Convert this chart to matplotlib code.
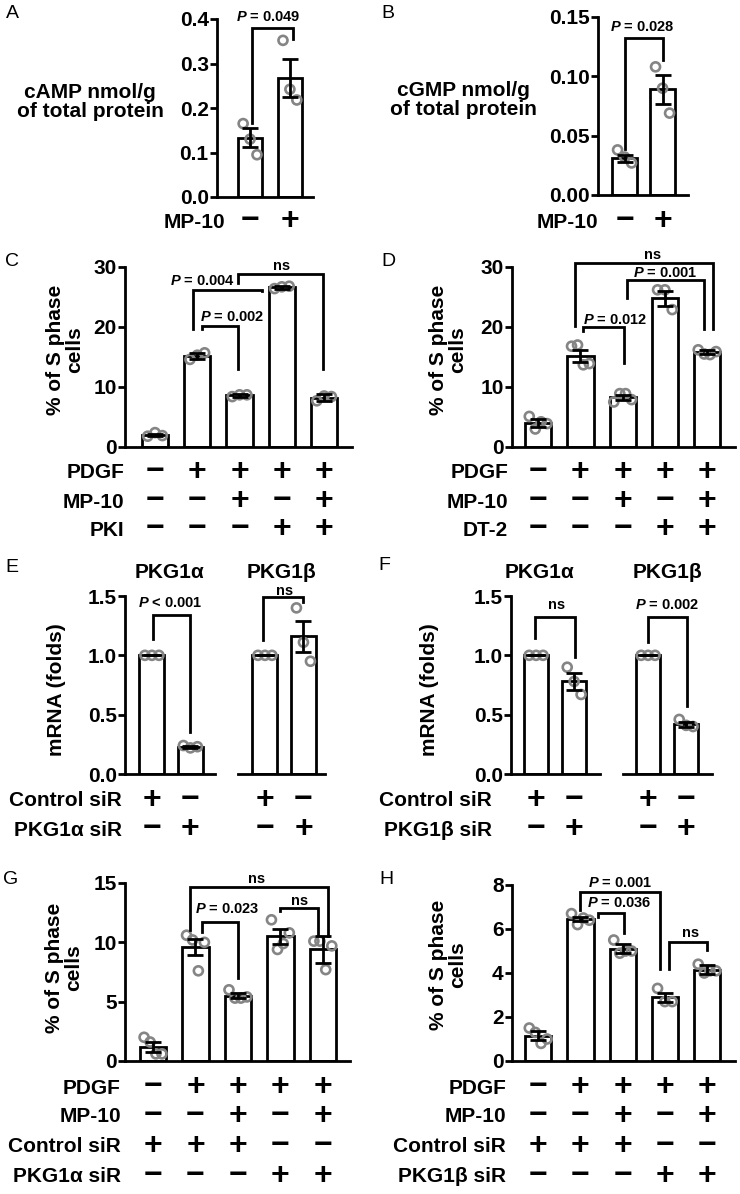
import matplotlib
matplotlib.use("Agg")
import matplotlib.pyplot as plt  # noqa: E402
import matplotlib.transforms as mtransforms  # noqa: E402
from matplotlib.ticker import FormatStrFormatter  # noqa: E402
import numpy as np  # noqa: E402

W, H = 740, 1194
LW = 2.0
GREY = "#858585"

plt.rcParams["font.family"] = ["Liberation Sans", "DejaVu Sans"]
plt.rcParams["font.weight"] = "bold"
plt.rcParams["mathtext.fontset"] = "custom"
plt.rcParams["mathtext.it"] = "Liberation Sans:italic:bold"
plt.rcParams["mathtext.rm"] = "Liberation Sans:bold"

# ---- values: bar mean, SEM, replicates ----
A_mean = [0.133, 0.267]
A_sem = [0.021, 0.043]
A_pts = [[0.165, 0.13, 0.095], [0.352, 0.242, 0.218]]

B_mean = [0.031, 0.089]
B_sem = [0.003, 0.012]
B_pts = [[0.038, 0.032, 0.027], [0.108, 0.090, 0.069]]

C_mean = [2.0, 15.2, 8.6, 26.6, 8.2]
C_sem = [0.2, 0.5, 0.3, 0.2, 0.6]
C_pts = [[1.8, 2.4, 1.9], [14.6, 15.3, 15.7], [8.4, 8.7, 8.7],
         [26.4, 26.7, 26.8], [7.7, 8.5, 8.4]]

D_mean = [4.0, 15.2, 8.3, 24.8, 15.8]
D_sem = [0.6, 1.0, 0.4, 1.25, 0.3]
D_pts = [[5.1, 3.0, 4.2, 3.9], [16.8, 17.0, 13.7, 13.9], [7.5, 8.9, 8.9, 7.9],
         [26.2, 26.2, 22.9], [16.2, 15.5, 15.4, 15.9]]

E_mean = [1.0, 0.23, 1.0, 1.16]
E_sem = [0.0, 0.01, 0.0, 0.13]
E_pts = [[1.0, 1.0, 1.0], [0.24, 0.22, 0.23], [1.0, 1.0, 1.0], [1.40, 1.11, 0.95]]

F_mean = [1.0, 0.78, 1.0, 0.42]
F_sem = [0.0, 0.07, 0.0, 0.02]
F_pts = [[1.0, 1.0, 1.0], [0.90, 0.78, 0.67], [1.0, 1.0, 1.0], [0.46, 0.41, 0.40]]

G_mean = [1.2, 9.6, 5.5, 10.5, 9.4]
G_sem = [0.4, 0.7, 0.2, 0.6, 1.1]
G_pts = [[2.0, 1.6, 0.6, 0.6], [10.6, 10.2, 7.6, 10.0], [6.0, 5.3, 5.3, 5.4],
         [11.9, 9.4, 9.9, 10.8], [10.1, 10.1, 7.7, 9.7]]

H_mean = [1.15, 6.45, 5.1, 2.9, 4.15]
H_sem = [0.2, 0.1, 0.2, 0.2, 0.2]
H_pts = [[1.5, 1.3, 0.8, 1.0], [6.7, 6.2, 6.5, 6.4], [5.5, 4.9, 5.0, 5.0],
         [3.3, 2.7, 2.7], [4.4, 4.0, 4.1, 4.1]]

# ---- treatment tables ----
AB_rows = ["MP-10"]
AB_signs = ["-+"]
C_rows = ["PDGF", "MP-10", "PKI"]
D_rows = ["PDGF", "MP-10", "DT-2"]
CD_signs = ["-++++", "--+-+", "---++"]
E_rows = ["Control siR", "PKG1\u03b1 siR"]
F_rows = ["Control siR", "PKG1\u03b2 siR"]
EF_signs = ["+-+-", "-+-+"]
G_rows = ["PDGF", "MP-10", "Control siR", "PKG1\u03b1 siR"]
H_rows = ["PDGF", "MP-10", "Control siR", "PKG1\u03b2 siR"]
GH_signs = ["-++++", "--+-+", "+++--", "---++"]
EF_titles = ["PKG1\u03b1", "PKG1\u03b2"]

# ---- significance brackets: x1, x2, top, left foot, right foot, label, label x, label y ----
A_br = [(0.05, 1.08, 0.379, 0.167, 0.356, "$P$ = 0.049", 0.45, 0.405)]
B_br = [(0.01, 1.01, 0.132, 0.039, 0.1135, "$P$ = 0.028", 0.46, 0.1416)]
C_br = [(1.11, 1.96, 20.2, 19.6, 13.0, "$P$ = 0.002", 1.82, 21.7),
        (0.90, 2.53, 26.2, 19.6, 26.0, "$P$ = 0.004", 1.12, 27.7),
        (1.96, 3.97, 28.9, 27.3, 13.0, "ns", 3.0, 30.1)]
D_br = [(1.07, 2.02, 20.0, 19.4, 14.0, "$P$ = 0.012", 1.83, 21.2),
        (2.10, 3.93, 27.9, 24.8, 19.7, "$P$ = 0.001", 3.02, 29.0),
        (0.88, 4.14, 30.7, 20.1, 19.7, "ns", 2.71, 32.0)]
E_br = [[(0.03, 1.0, 1.34, 1.14, 0.35, "$P$ < 0.001", 0.47, 1.44)],
        [(-0.05, 0.99, 1.49, 1.13, 1.45, "ns", 0.52, 1.545)]]
F_br = [[(-0.03, 1.03, 1.32, 1.15, 0.99, "ns", 0.53, 1.42)],
        [(0.0, 1.03, 1.32, 1.11, 0.57, "$P$ = 0.002", 0.5, 1.42)]]
G_br = [(1.15, 2.0, 11.7, 10.9, 7.0, "$P$ = 0.023", 1.75, 12.8),
        (0.87, 4.12, 14.66, 11.0, 10.5, "ns", 2.45, 15.3),
        (3.0, 3.88, 12.86, 12.6, 10.6, "ns", 3.46, 13.5)]
H_br = [(0.99, 2.89, 7.68, 6.86, 4.2, "$P$ = 0.001", 1.94, 8.1),
        (1.42, 2.03, 6.73, 6.55, 5.8, "$P$ = 0.036", 1.92, 7.18),
        (3.1, 4.0, 5.4, 4.2, 5.05, "ns", 3.6, 5.8)]

# horizontal spread of replicate dots, as a fraction of bar width
JIT = {3: [-0.28, 0.0, 0.28], 4: [-0.34, -0.11, 0.11, 0.34]}

fig = plt.figure(figsize=(W / 100, H / 100), dpi=100)


def add_ax(left, right, top, bottom):
    return fig.add_axes([left / W, 1 - bottom / H, (right - left) / W, (bottom - top) / H])


def draw_bars(ax, means, sems, pts, width):
    x = np.arange(len(means))
    ax.bar(x, means, width=width, color="white", edgecolor="black", linewidth=LW, zorder=1)
    for i, p in enumerate(pts):
        xs = x[i] + np.array(JIT[len(p)]) * width
        ax.scatter(xs, p, s=42, facecolor="none", edgecolor=GREY, linewidth=1.9,
                   zorder=2, clip_on=False)
    ax.errorbar(x, means, yerr=sems, fmt="none", ecolor="black", elinewidth=LW,
                capsize=6, capthick=LW, zorder=3)


def style(ax, xlim, ylim, yticks, fmt, left=True):
    ax.set_xlim(*xlim)
    ax.set_ylim(*ylim)
    ax.set_xticks([])
    for s in ["top", "right"]:
        ax.spines[s].set_visible(False)
    ax.spines["bottom"].set_linewidth(LW)
    ax.spines["left"].set_linewidth(LW)
    if left:
        ax.set_yticks(yticks)
        ax.yaxis.set_major_formatter(FormatStrFormatter(fmt))
        ax.tick_params(axis="y", width=LW, length=5, labelsize=15, pad=1)
    else:
        ax.spines["left"].set_visible(False)
        ax.set_yticks([])
    ax.patch.set_alpha(0)


def brackets(ax, spec):
    for x1, x2, top, yl, yr, lab, tx, ty in spec:
        ax.plot([x1, x1, x2, x2], [yl, top, top, yr], color="black", lw=LW,
                clip_on=False, solid_joinstyle="miter", zorder=4)
        ax.text(tx, ty, lab, ha="center", va="center", fontsize=10.5, fontweight="bold")


def table(ax, rows, signs, ys, right, offset=0):
    tr = mtransforms.blended_transform_factory(ax.transData, fig.transFigure)
    for lab, sg, y in zip(rows, signs, ys):
        if lab is not None:
            fig.text(right / W, 1 - y / H, lab, ha="right", va="center", fontsize=15)
        for i, c in enumerate(sg):
            ch = "+" if c == "+" else "\u2212"
            ax.text(i + offset, 1 - (y - 1) / H, ch, transform=tr, ha="center",
                    va="center", fontsize=23)


def ylab(x, y, text, rot=90):
    fig.text(x / W, 1 - y / H, text, ha="center", va="center", rotation=rot,
             fontsize=15, multialignment="center", linespacing=1.05)


def panel(x, y, letter):
    fig.text(x / W, 1 - y / H, letter, ha="center", va="center", fontsize=14,
             fontweight="normal")


# ---- A ----
ax = add_ax(217, 313, 19, 197)
draw_bars(ax, A_mean, A_sem, A_pts, 0.62)
style(ax, (-0.83, 1.58), (0, 0.4), [0, 0.1, 0.2, 0.3, 0.4], "%.1f")
brackets(ax, A_br)
table(ax, AB_rows, AB_signs, [222], 225)
ylab(90, 102, "cAMP nmol/g\nof total protein", rot=0)
panel(12, 14, "A")

# ---- B ----
ax = add_ax(598, 688, 17, 195)
draw_bars(ax, B_mean, B_sem, B_pts, 0.66)
style(ax, (-0.70, 1.67), (0, 0.15), [0, 0.05, 0.10, 0.15], "%.2f")
brackets(ax, B_br)
table(ax, AB_rows, AB_signs, [222], 598)
ylab(463, 100, "cGMP nmol/g\nof total protein", rot=0)
panel(388, 14, "B")

# ---- C ----
ax = add_ax(125, 352, 267, 447)
draw_bars(ax, C_mean, C_sem, C_pts, 0.62)
style(ax, (-0.71, 4.66), (0, 30), [0, 10, 20, 30], "%d")
brackets(ax, C_br)
table(ax, C_rows, CD_signs, [473, 502, 530], 124)
ylab(65, 350, "% of S phase\ncells")
panel(12, 262, "C")

# ---- D ----
ax = add_ax(512, 735, 267, 447)
draw_bars(ax, D_mean, D_sem, D_pts, 0.62)
style(ax, (-0.62, 4.66), (0, 30), [0, 10, 20, 30], "%d")
brackets(ax, D_br)
table(ax, D_rows, CD_signs, [473, 502, 530], 508)
ylab(448, 350, "% of S phase\ncells")
panel(388, 262, "D")

# ---- E / F (split axes, one pair per gene) ----
for means, sems, pts, brs, rows, boxes, xl, tx, rx, lx, letter, lpos in [
        (E_mean, E_sem, E_pts, E_br, E_rows, [(125, 215), (238, 325)],
         [(-0.70, 1.64), (-0.70, 1.56)], [0.47, 0.44], 122, 57, "E", (12, 568)),
        (F_mean, F_sem, F_pts, F_br, F_rows, [(511, 600), (623, 712)],
         [(-0.66, 1.68), (-0.66, 1.68)], [0.08, 0.5], 492, 430, "F", (384, 566))]:
    for g in range(2):
        ax = add_ax(boxes[g][0], boxes[g][1], 596, 774)
        sl = slice(2 * g, 2 * g + 2)
        draw_bars(ax, means[sl], sems[sl], pts[sl], 0.65)
        style(ax, xl[g], (0, 1.5), [0, 0.5, 1.0, 1.5], "%.1f", left=(g == 0))
        brackets(ax, brs[g])
        table(ax, rows if g == 0 else [None, None], [s[sl] for s in EF_signs],
              [801, 830], rx)
        ax.text(tx[g], 1.5 + 0.5 * 23 / 59, EF_titles[g], ha="center", va="center",
                fontsize=15, clip_on=False)
    ylab(lx, 690, "mRNA (folds)")
    panel(lpos[0], lpos[1], letter)

# ---- G ----
ax = add_ax(125, 350, 883, 1061)
draw_bars(ax, G_mean, G_sem, G_pts, 0.62)
style(ax, (-0.66, 4.64), (0, 15), [0, 5, 10, 15], "%d")
brackets(ax, G_br)
table(ax, G_rows, GH_signs, [1088, 1117, 1147, 1177], 121)
ylab(64, 968, "% of S phase\ncells")
panel(11, 880, "G")

# ---- H ----
ax = add_ax(512, 735, 885, 1061)
draw_bars(ax, H_mean, H_sem, H_pts, 0.62)
style(ax, (-0.62, 4.66), (0, 8), [0, 2, 4, 6, 8], "%d")
brackets(ax, H_br)
table(ax, H_rows, GH_signs, [1088, 1117, 1147, 1177], 506)
ylab(448, 965, "% of S phase\ncells")
panel(386, 880, "H")

fig.savefig("out.png", dpi=100)
